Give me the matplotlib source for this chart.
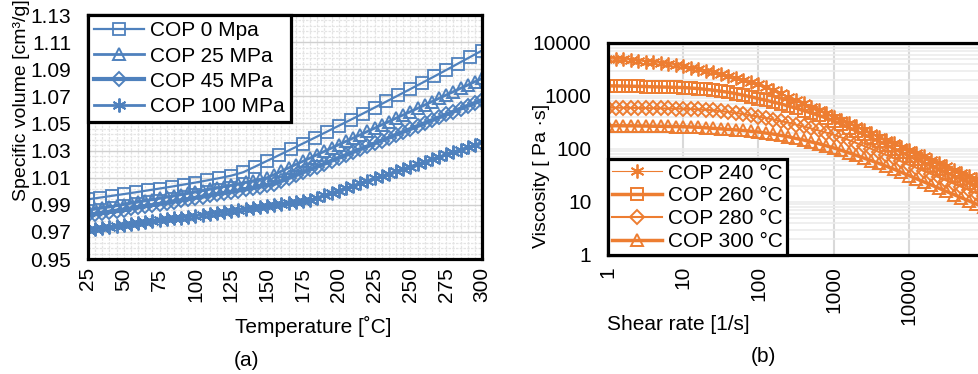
import matplotlib
matplotlib.use('Agg')
import matplotlib.pyplot as plt
from matplotlib.ticker import MultipleLocator, FixedLocator, NullFormatter

plt.rcParams['font.family'] = ['Liberation Sans', 'DejaVu Sans']

# (a) specific volume vs temperature
temp_0 = [25, 33.3, 41.7, 50, 58.3, 66.7, 75, 83.3, 91.7, 100, 108.3, 116.7,
          125, 133.3, 141.7, 150, 158.3, 166.7, 175, 183.3, 191.7, 200, 208.3,
          216.7, 225, 233.3, 241.7, 250, 258.3, 266.7, 275, 283.3, 291.7, 300]
vol_0 = [0.9940, 0.9953, 0.9966, 0.9979, 0.9992, 1.0006, 1.0020, 1.0034, 1.0049,
         1.0064, 1.0080, 1.0097, 1.0115, 1.0140, 1.0182, 1.0224, 1.0266, 1.0309,
         1.0352, 1.0395, 1.0439, 1.0483, 1.0527, 1.0572, 1.0617, 1.0662, 1.0708,
         1.0754, 1.0800, 1.0847, 1.0894, 1.0942, 1.0990, 1.1038]

temp = [25, 30, 35, 40, 45, 50, 55, 60, 65, 70, 75, 80, 85, 90, 95, 100, 105, 110,
        115, 120, 125, 130, 135, 140, 145, 150, 155, 160, 165, 170, 175, 180, 185,
        190, 195, 200, 205, 210, 215, 220, 225, 230, 235, 240, 245, 250, 255, 260,
        265, 270, 275, 280, 285, 290, 295, 300]
vol_25 = [0.9860, 0.9868, 0.9876, 0.9884, 0.9893, 0.9902, 0.9911, 0.9920, 0.9929,
          0.9938, 0.9947, 0.9956, 0.9965, 0.9974, 0.9984, 0.9994, 1.0004, 1.0014,
          1.0024, 1.0034, 1.0044, 1.0055, 1.0066, 1.0077, 1.0088, 1.0099, 1.0123,
          1.0148, 1.0172, 1.0197, 1.0221, 1.0245, 1.0270, 1.0294, 1.0319, 1.0343,
          1.0368, 1.0392, 1.0416, 1.0441, 1.0465, 1.0490, 1.0514, 1.0539, 1.0563,
          1.0587, 1.0612, 1.0636, 1.0661, 1.0685, 1.0710, 1.0734, 1.0759, 1.0783,
          1.0808, 1.0832]
vol_45 = [0.9825, 0.9833, 0.9841, 0.9849, 0.9857, 0.9865, 0.9873, 0.9881, 0.9890,
          0.9898, 0.9907, 0.9915, 0.9924, 0.9933, 0.9942, 0.9951, 0.9960, 0.9969,
          0.9978, 0.9987, 0.9996, 1.0005, 1.0014, 1.0024, 1.0034, 1.0044, 1.0054,
          1.0075, 1.0097, 1.0118, 1.0139, 1.0161, 1.0182, 1.0203, 1.0225, 1.0246,
          1.0267, 1.0289, 1.0310, 1.0331, 1.0353, 1.0374, 1.0395, 1.0417, 1.0438,
          1.0459, 1.0481, 1.0502, 1.0523, 1.0545, 1.0566, 1.0587, 1.0609, 1.0630,
          1.0651, 1.0673]
vol_100 = [0.9715, 0.9722, 0.9729, 0.9736, 0.9743, 0.9750, 0.9757, 0.9764, 0.9771,
           0.9778, 0.9785, 0.9792, 0.9799, 0.9806, 0.9813, 0.9820, 0.9827, 0.9834,
           0.9841, 0.9848, 0.9855, 0.9862, 0.9869, 0.9876, 0.9883, 0.9890, 0.9897,
           0.9904, 0.9911, 0.9918, 0.9926, 0.9934, 0.9952, 0.9970, 0.9987, 1.0005,
           1.0023, 1.0040, 1.0058, 1.0076, 1.0094, 1.0112, 1.0129, 1.0147, 1.0165,
           1.0182, 1.0200, 1.0218, 1.0236, 1.0253, 1.0271, 1.0289, 1.0307, 1.0324,
           1.0342, 1.0360]
vol_ticks = [0.95, 0.97, 0.99, 1.01, 1.03, 1.05, 1.07, 1.09, 1.11, 1.13]
temp_ticks = [25, 50, 75, 100, 125, 150, 175, 200, 225, 250, 275, 300]

# (b) viscosity vs shear rate
shear = [1, 1.26, 1.58, 2, 2.51, 3.16, 3.98, 5.01, 6.31, 7.94,
         10, 12.6, 15.8, 20, 25.1, 31.6, 39.8, 50.1, 63.1, 79.4,
         100, 126, 158, 200, 251, 316, 398, 501, 631, 794,
         1000, 1260, 1580, 2000, 2510, 3160, 3980, 5010, 6310, 7940,
         10000, 12600, 15800, 20000, 25100, 31600, 39800, 50100, 63100, 79400,
         100000]
visc_240 = [5000, 4950, 4900, 4790, 4620, 4470, 4320, 4170, 3980, 3800,
            3630, 3430, 3200, 2990, 2790, 2570, 2370, 2190, 2000, 1820,
            1660, 1460, 1290, 1120, 977, 851, 733, 631, 550, 473,
            407, 355, 309, 266, 229, 200, 172, 148, 129, 111,
            95.5, 83.2, 72.4, 63.1, 54.3, 46.8, 40.7, 35.5, 30.9, 26.9, 23.4]
visc_260 = [1550, 1550, 1540, 1530, 1520, 1510, 1490, 1480, 1470, 1455,
            1445, 1413, 1380, 1334, 1288, 1230, 1175, 1109, 1035, 966,
            891, 832, 767, 708, 646, 589, 531, 479, 432, 385,
            339, 295, 254, 219, 188, 162, 140, 120, 102, 87.1,
            74.1, 63.8, 55.0, 47.9, 41.2, 35.9, 30.9, 26.9, 23.2, 20.0, 17.4]
visc_280 = [603, 603, 601, 598, 596, 592, 589, 585, 581, 578,
            575, 569, 560, 550, 537, 519, 501, 479, 457, 432,
            407, 385, 359, 335, 313, 288, 266, 245, 224, 204,
            186, 166, 148, 130, 115, 101, 88.1, 76.7, 66.8, 58.2,
            50.1, 44.2, 38.5, 33.5, 29.2, 25.4, 22.1, 19.3, 16.8, 14.6, 12.7]
visc_300 = [275, 275, 274, 274, 272, 271, 269, 268, 266, 264,
            263, 260, 257, 251, 245, 240, 234, 229, 224, 216,
            209, 200, 191, 180, 170, 158, 148, 136, 126, 115,
            105, 94.4, 85.1, 75.9, 67.6, 60.3, 53.7, 47.3, 41.7, 36.3,
            31.6, 27.5, 24.0, 20.9, 18.2, 15.8, 13.8, 12.0, 10.5, 9.12, 7.94]
shear_ticks = [1, 10, 100, 1000, 10000]
visc_ticks = [1, 10, 100, 1000, 10000]

blue = '#4f81bd'
orange = '#ed7d31'
fs = 15

fig = plt.figure(figsize=(9.79, 3.74), dpi=100)

# ---- panel (a)
ax1 = fig.add_axes([88/979, 1-259/374, 394/979, 244/374])
ax1.plot(temp_0, vol_0, color=blue, lw=1.6, marker='s', ms=8, mfc='none', mew=1.3,
         label='COP 0 Mpa')
ax1.plot(temp, vol_25, color=blue, lw=2, marker='^', ms=9, mfc='none', mew=1.4,
         label='COP 25 MPa')
ax1.plot(temp, vol_45, color=blue, lw=3, marker='D', ms=7, mfc='none', mew=1.4,
         label='COP 45 MPa')
ax1.plot(temp, vol_100, color=blue, lw=2, marker=(6, 2, 0), ms=10, mew=1.4,
         label='COP 100 MPa')
ax1.set_xlim(25, 300)
ax1.set_ylim(0.95, 1.13)
ax1.xaxis.set_major_locator(FixedLocator(temp_ticks))
ax1.xaxis.set_minor_locator(MultipleLocator(5))
ax1.yaxis.set_major_locator(FixedLocator(vol_ticks))
ax1.yaxis.set_minor_locator(MultipleLocator(0.004, offset=0.002))
ax1.set_yticklabels(['%.2f' % v for v in vol_ticks])
ax1.grid(which='minor', color='#e4e4e4', lw=0.9, ls=(0, (2, 1)))
ax1.grid(which='major', axis='x', color='#e4e4e4', lw=0.9, ls=(0, (2, 1)))
ax1.grid(which='major', axis='y', color='#d0d0d0', lw=1)
ax1.set_axisbelow(True)
ax1.tick_params(which='both', length=0, labelsize=fs)
ax1.tick_params(axis='x', pad=6, labelrotation=90)
ax1.tick_params(axis='y', pad=12)
for s in ax1.spines.values():
    s.set_linewidth(2.3)
ax1.set_xlabel('Temperature [˚C]', fontsize=fs)
ax1.xaxis.set_label_coords(0.571, -0.234)
ax1.set_ylabel('Specific volume [cm³/g]', fontsize=14)
ax1.yaxis.set_label_coords(-0.147, 0.652)
leg1 = ax1.legend(loc='upper left', bbox_to_anchor=(0, 1), borderaxespad=0,
                  fontsize=fs, handlelength=2.4, handletextpad=0.3,
                  labelspacing=0.3, borderpad=0.3, fancybox=False,
                  framealpha=1, edgecolor='black')
leg1.get_frame().set_linewidth(2.3)
fig.text(247/979, 1-361/374, '(a)', fontsize=fs, ha='center', va='center')

# ---- panel (b)
ax2 = fig.add_axes([608/979, 1-255/374, 376/979, 212/374])
ax2.plot(shear, visc_240, color=orange, lw=0.8, marker=(6, 2, 0), ms=10, mew=1.3,
         label='COP 240 °C')
ax2.plot(shear, visc_260, color=orange, lw=2.5, marker='s', ms=8, mfc='none', mew=1.4,
         label='COP 260 °C')
ax2.plot(shear, visc_280, color=orange, lw=1.5, marker='D', ms=7, mfc='none', mew=1.4,
         label='COP 280 °C')
ax2.plot(shear, visc_300, color=orange, lw=2.5, marker='^', ms=9, mfc='none', mew=1.4,
         label='COP 300 °C')
ax2.set_xscale('log')
ax2.set_yscale('log')
ax2.set_xlim(1, 100000)
ax2.set_ylim(1, 10000)
ax2.xaxis.set_major_locator(FixedLocator(shear_ticks))
ax2.set_xticklabels([str(v) for v in shear_ticks])
ax2.yaxis.set_major_locator(FixedLocator(visc_ticks))
ax2.set_yticklabels([str(v) for v in visc_ticks])
ax2.xaxis.set_minor_formatter(NullFormatter())
ax2.yaxis.set_minor_formatter(NullFormatter())
ax2.grid(which='major', axis='x', color='#d9d9d9', lw=1.5)
ax2.grid(which='both', axis='y', color='#ececec', lw=1.2)
ax2.set_axisbelow(True)
ax2.tick_params(which='both', length=0, labelsize=fs)
ax2.tick_params(axis='x', pad=8, labelrotation=90)
ax2.tick_params(axis='y', pad=12)
for s in ax2.spines.values():
    s.set_linewidth(2.3)
ax2.set_xlabel('Shear rate [1/s]', fontsize=fs)
ax2.xaxis.set_label_coords(0.186, -0.283)
ax2.set_ylabel('Viscosity [ Pa ·s]', fontsize=14)
ax2.yaxis.set_label_coords(-0.154, 0.373)
leg2 = ax2.legend(loc='lower left', bbox_to_anchor=(0, 0), borderaxespad=0,
                  fontsize=fs, handlelength=2.4, handletextpad=0.3,
                  labelspacing=0.18, borderpad=0.2, fancybox=False,
                  framealpha=1, edgecolor='black')
leg2.get_frame().set_linewidth(2.3)
fig.text(763/979, 1-357/374, '(b)', fontsize=fs, ha='center', va='center')

fig.savefig('out.png', dpi=100)
